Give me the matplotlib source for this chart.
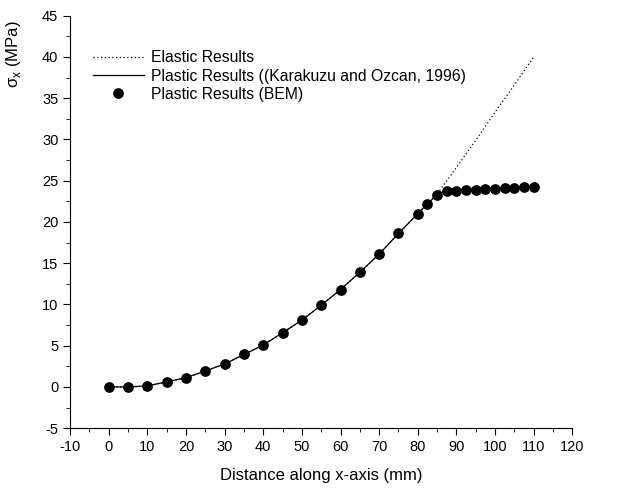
import numpy as np
import matplotlib
matplotlib.use('Agg')
import matplotlib.pyplot as plt
from matplotlib.ticker import MultipleLocator

plt.rcParams['font.family'] = ['Liberation Sans', 'DejaVu Sans']
plt.rcParams['mathtext.fontset'] = 'custom'
plt.rcParams['mathtext.rm'] = 'Liberation Sans'
plt.rcParams['axes.unicode_minus'] = False

# BEM points
x_bem = [0, 5, 10, 15, 20, 25, 30, 35, 40, 45, 50, 55, 60, 65, 70, 75, 80,
         82.5, 85, 87.5, 90, 92.5, 95, 97.5, 100, 102.5, 105, 107.5, 110]
s_bem = [0.0, 0.0, 0.12, 0.62, 1.12, 1.93, 2.78, 3.93, 5.08, 6.57, 8.1, 9.9, 11.8,
         13.9, 16.1, 18.6, 21.0, 22.2, 23.3, 23.8, 23.7, 23.85, 23.9, 24.0,
         24.05, 24.1, 24.15, 24.25, 24.2]

# Karakuzu and Ozcan plastic curve
x_pl = [0, 5, 10, 15, 20, 25, 30, 35, 40, 45, 50, 55, 60, 65, 70, 75, 80,
        82.5, 85, 87.5, 90, 95, 100, 105, 110]
s_pl = [0.0, 0.0, 0.12, 0.62, 1.12, 1.93, 2.78, 3.93, 5.08, 6.57, 8.1, 9.9, 11.8,
        13.9, 16.1, 18.6, 21.0, 22.2, 23.3, 23.9, 23.9, 24.0, 24.1, 24.2, 24.2]

# elastic results
x_el = [0, 5, 10, 15, 20, 25, 30, 35, 40, 45, 50, 55, 60, 65, 70, 75, 80,
        85, 90, 95, 100, 105, 110]
s_el = [0.0, 0.0, 0.12, 0.62, 1.12, 1.93, 2.78, 3.93, 5.08, 6.57, 8.1, 9.9, 11.8,
        13.9, 16.1, 18.6, 21.0, 23.4, 26.6, 29.9, 33.3, 36.6, 40.0]

fig = plt.figure(figsize=(6.38, 4.91), dpi=100)
ax = fig.add_axes([0.110, 0.128, 0.787, 0.840])

ax.plot(x_el, s_el, color='black', lw=0.9, ls=(0, (1, 2)), label='Elastic Results')
ax.plot(x_pl, s_pl, color='black', lw=0.9, label='Plastic Results ((Karakuzu and Ozcan, 1996)')
ax.plot(x_bem, s_bem, 'o', color='black', ms=6.7, label='Plastic Results (BEM)')

ax.set_xlim(-10, 120)
ax.set_ylim(-5, 45)
ax.xaxis.set_major_locator(MultipleLocator(10))
ax.xaxis.set_minor_locator(MultipleLocator(5))
ax.yaxis.set_major_locator(MultipleLocator(5))
ax.yaxis.set_minor_locator(MultipleLocator(2.5))
ax.spines['top'].set_visible(False)
ax.spines['right'].set_visible(False)
ax.tick_params(which='major', direction='out', length=5, labelsize=10.5)
ax.tick_params(which='minor', direction='out', length=3)

ax.set_xlabel('Distance along x-axis (mm)', fontsize=12, labelpad=10)
ax.set_ylabel('σ$_\\mathregular{x}$ (MPa)', fontsize=12)
ax.yaxis.set_label_coords(-0.094, 0.907)

ax.legend(loc='upper left', bbox_to_anchor=(0.032, 0.931), frameon=False, fontsize=11.3,
          handlelength=3.3, handletextpad=0.4, labelspacing=0.2, borderaxespad=0)

fig.savefig('out.png', dpi=100)
